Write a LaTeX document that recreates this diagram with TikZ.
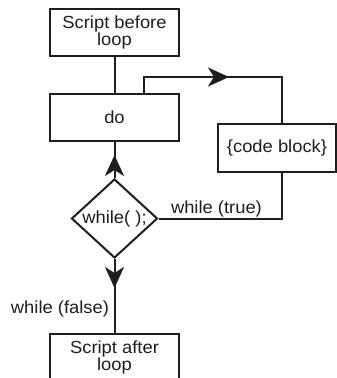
\documentclass[tikz,border=0pt]{standalone}
\usepackage{fontspec}
\setmainfont{Liberation Sans}[FakeStretch=1.05]
\usetikzlibrary{arrows.meta,shapes.geometric}
\definecolor{ink}{HTML}{1E1E1E}
\begin{document}
\begin{tikzpicture}[x=1pt,y=-1pt,line width=2pt,
  every node/.style={font=\fontsize{17.5}{17}\selectfont, inner sep=0pt, text=ink},
  box/.style={draw=ink, rectangle, minimum width=129pt, minimum height=47pt, align=center, line width=2pt},
  dec/.style={draw=ink, diamond, minimum width=86pt, minimum height=79pt, aspect=1.09, line width=2pt},
  conn/.style={draw=ink, line width=2pt},
  tip/.style={draw=ink, -{Stealth[length=21pt,width=19pt,inset=6pt]}, line width=2pt}]
\useasboundingbox (0,0) rectangle (337,378);
\node[box] (before) at (114.5,32.5) {Script before\\loop};
\node[box] (do) at (114.5,117.5) {do};
\node[box, minimum width=118pt, minimum height=48pt] (code) at (277,148) {\{code block\}};
\node[dec] (wh) at (114.5,218.5) {};
\node (whl) at (114.5,219) {while( );};
\node[box] (after) at (114.5,357) {Script after\\loop};
% connectors
\coordinate (dotop) at (144,94);
\coordinate (c1) at (144,77);
\coordinate (c2) at (282,77);
\coordinate (codetop) at (282,124);
\coordinate (codebot) at (282,172);
\coordinate (c3) at (282,218.5);
\coordinate (uptip) at (114.5,155);
\coordinate (rtip) at (229,77);
\coordinate (dntip) at (114.5,288);
\draw[conn] (before.south) -- (do.north);
\draw[conn] (dotop) -- (c1) -- (c2) -- (codetop);
\draw[tip] (c1) -- (rtip);
\draw[conn] (codebot) -- (c3) -- (wh.east);
\draw[conn] (wh.north) -- (do.south);
\draw[tip] (wh.north) -- (uptip);
\draw[conn] (wh.south) -- (after.north);
\draw[tip] (wh.south) -- (dntip);
\node[anchor=base west] (lt) at (170,213) {while (true)};
\node[anchor=base east] (lf) at (110,313) {while (false)};
\end{tikzpicture}
\end{document}
